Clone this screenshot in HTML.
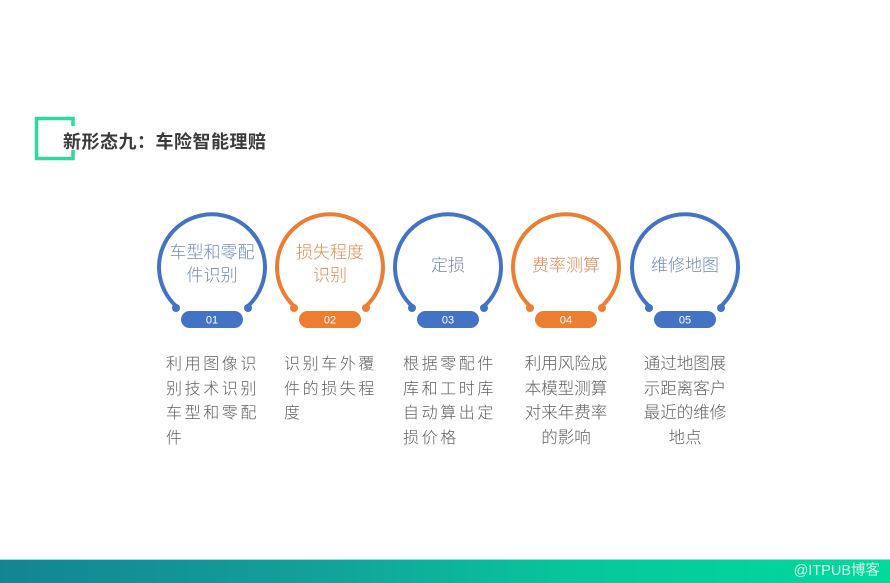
<!DOCTYPE html>
<html><head><meta charset="utf-8"><style>
html,body{margin:0;padding:0;background:#fff;width:890px;height:583px;overflow:hidden}
body{position:relative;font-family:"Liberation Sans","Noto Sans CJK SC",sans-serif}
.bar{position:absolute;left:0;top:559px;width:890px;height:24px;background:linear-gradient(90deg,#128592 0%,#13a09a 35%,#07c79c 65%,#00da9c 100%);border-top:1px solid #9fd8d4}
.wm{position:absolute;right:10px;top:560px;font-size:14.5px;color:#d8f3ec;line-height:22px}
.title{position:absolute;left:63px;top:129px;font-size:18px;font-weight:bold;color:#3a3a3a;letter-spacing:0.5px;font-family:"Noto Sans CJK SC",sans-serif;line-height:24px}
.desc{position:absolute;top:350px;font-size:16px;color:#5f5f5f;line-height:24.5px;font-family:"Noto Sans CJK SC",sans-serif;font-weight:300}
.ls{letter-spacing:2.6px;width:100px}
.ct{text-align:center;width:100px;font-size:16.5px}
</style></head><body>
<svg width="890" height="583" style="position:absolute;left:0;top:0">
<g fill="none" stroke="#2ed8a0" stroke-width="3.5">
<polyline points="73,126 73,118.5 36.5,118.5 36.5,158.5 73,158.5 73,150"/>
</g>
<g stroke-width="4" fill="none">
<path d="M177,307 A53,53 0 1 1 247,307" stroke="#4472C4"/>
<path d="M295,307 A53,53 0 1 1 365,307" stroke="#ED7D31"/>
<path d="M413,307 A53,53 0 1 1 483,307" stroke="#4472C4"/>
<path d="M531,307 A53,53 0 1 1 601,307" stroke="#ED7D31"/>
<path d="M650,307 A53,53 0 1 1 720,307" stroke="#4472C4"/>
</g>
<g>
<circle cx="176" cy="308" r="4" fill="#4472C4"/><circle cx="248" cy="308" r="4" fill="#4472C4"/>
<circle cx="294" cy="308" r="4" fill="#ED7D31"/><circle cx="366" cy="308" r="4" fill="#ED7D31"/>
<circle cx="412" cy="308" r="4" fill="#4472C4"/><circle cx="484" cy="308" r="4" fill="#4472C4"/>
<circle cx="530" cy="308" r="4" fill="#ED7D31"/><circle cx="602" cy="308" r="4" fill="#ED7D31"/>
<circle cx="649" cy="308" r="4" fill="#4472C4"/><circle cx="721" cy="308" r="4" fill="#4472C4"/>
<rect x="181" y="311" width="62" height="17" rx="8.5" fill="#4472C4"/>
<rect x="299" y="311" width="62" height="17" rx="8.5" fill="#ED7D31"/>
<rect x="417" y="311" width="62" height="17" rx="8.5" fill="#4472C4"/>
<rect x="535" y="311" width="62" height="17" rx="8.5" fill="#ED7D31"/>
<rect x="654" y="311" width="62" height="17" rx="8.5" fill="#4472C4"/>
</g>
<g font-family="Liberation Sans,sans-serif" font-size="11" fill="#fff" text-anchor="middle">
<text x="212" y="323.5">01</text><text x="330" y="323.5">02</text><text x="448" y="323.5">03</text><text x="566" y="323.5">04</text><text x="685" y="323.5">05</text>
</g>
<g font-family="Noto Sans CJK SC,sans-serif" font-size="17" font-weight="300" text-anchor="middle">
<text x="212" y="258" fill="#7389bb">车型和零配</text>
<text x="212" y="281" fill="#7389bb">件识别</text>
<text x="330" y="258" fill="#e28a55">损失程度</text>
<text x="330" y="281" fill="#e28a55">识别</text>
<text x="448" y="271" fill="#7389bb">定损</text>
<text x="566" y="271" fill="#e28a55">费率测算</text>
<text x="685" y="271" fill="#7389bb">维修地图</text>
</g>
</svg>
<div class="title">新形态九：车险智能理赔</div>
<div class="desc ls" style="left:166px">利用图像识<br>别技术识别<br>车型和零配<br>件</div>
<div class="desc ls" style="left:284px">识别车外覆<br>件的损失程<br>度</div>
<div class="desc ls" style="left:403px">根据零配件<br>库和工时库<br>自动算出定<br>损价格</div>
<div class="desc ct" style="left:516px">利用风险成<br>本模型测算<br>对来年费率<br>的影响</div>
<div class="desc ct" style="left:635px">通过地图展<br>示距离客户<br>最近的维修<br>地点</div>
<div class="bar"></div>
<div class="wm">@ITPUB博客</div>
</body></html>
